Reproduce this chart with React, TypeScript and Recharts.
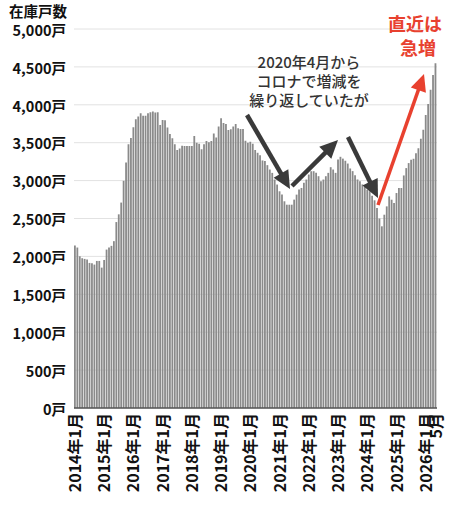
import { BarChart, Bar, XAxis, YAxis, CartesianGrid } from 'recharts';

const FONT = "'Noto Sans CJK JP', 'Noto Sans', sans-serif";

const years = [2014, 2015, 2016, 2017, 2018, 2019, 2020, 2021, 2022, 2023, 2024, 2025, 2026];

// 在庫戸数（月次）
const stock2014 = [2144, 2117, 2002, 1976, 1967, 1958, 1914, 1909, 1892, 1940, 1940, 1852];
const stock2015 = [1953, 2090, 2117, 2139, 2201, 2453, 2555, 2710, 2997, 3240, 3478, 3562];
const stock2016 = [3704, 3810, 3845, 3890, 3854, 3854, 3890, 3903, 3912, 3898, 3903, 3735];
const stock2017 = [3801, 3797, 3700, 3615, 3558, 3478, 3403, 3425, 3461, 3456, 3456, 3456];
const stock2018 = [3456, 3589, 3500, 3487, 3412, 3478, 3523, 3505, 3523, 3620, 3567, 3713];
const stock2019 = [3823, 3761, 3748, 3669, 3677, 3713, 3748, 3690, 3682, 3682, 3527, 3500];
const stock2020 = [3514, 3487, 3403, 3367, 3336, 3266, 3257, 3204, 3146, 3102, 3014, 2948];
const stock2021 = [2859, 2815, 2727, 2682, 2682, 2682, 2749, 2815, 2881, 2903, 2970, 3014];
const stock2022 = [3080, 3124, 3124, 3102, 3058, 2992, 3014, 3058, 3102, 3177, 3146, 3102];
const stock2023 = [3279, 3314, 3290, 3262, 3225, 3160, 3125, 3070, 3015, 2993, 2950, 2920];
const stock2024 = [2880, 2860, 2800, 2740, 2640, 2500, 2397, 2550, 2660, 2792, 2748, 2704];
const stock2025 = [2836, 2902, 2902, 3068, 3165, 3231, 3275, 3288, 3362, 3428, 3551, 3670];
const stock2026 = [3867, 4012, 4197, 4394, 4548];

const yTicks = [0, 500, 1000, 1500, 2000, 2500, 3000, 3500, 4000, 4500, 5000];

const byYear = [
  stock2014, stock2015, stock2016, stock2017, stock2018, stock2019, stock2020,
  stock2021, stock2022, stock2023, stock2024, stock2025, stock2026,
];

const data = byYear.flatMap((vals, i) =>
  vals.map((v, m) => ({ month: `${years[i]}-${m + 1}`, stock: v }))
);

const fmtY = (v: number) => `${v}`.replace(/\B(?=(\d{3})+(?!\d))/g, ',') + '戸';

function MonthTick(props: any) {
  const { x, y, payload, index } = props;
  const [yr, mo] = String(payload.value).split('-');
  let label = '';
  if (mo === '1') label = `${yr}年1月`;
  else if (index === data.length - 1) label = `${mo}月`;
  if (!label) return <g />;
  const ty = y - 3;
  return (
    <text
      x={x}
      y={ty}
      transform={`rotate(-90 ${x} ${ty})`}
      textAnchor="end"
      dy="0.36em"
      fill="#111"
      fontSize={16}
      fontWeight={600}
      fontFamily={FONT}
    >
      {label}
    </text>
  );
}

function YTick(props: any) {
  const { x, y, payload } = props;
  return (
    <text x={x} y={y + 1.5} dy="0.36em" textAnchor="end" fill="#111" fontSize={14.5} fontWeight={600} fontFamily={FONT}>
      {fmtY(payload.value)}
    </text>
  );
}

function Arrow({ x1, y1, x2, y2, color, w = 4.5, head = 18, hw = 8.5 }: any) {
  const dx = x2 - x1;
  const dy = y2 - y1;
  const len = Math.hypot(dx, dy);
  const ux = dx / len;
  const uy = dy / len;
  const bx = x2 - ux * head;
  const by = y2 - uy * head;
  const px = -uy;
  const py = ux;
  return (
    <g>
      <line x1={x1} y1={y1} x2={bx + ux * 2} y2={by + uy * 2} stroke={color} strokeWidth={w} />
      <polygon
        points={`${x2},${y2} ${bx + px * hw},${by + py * hw} ${bx - px * hw},${by - py * hw}`}
        fill={color}
      />
    </g>
  );
}

export default function App() {
  return (
    <div style={{ position: 'absolute', left: 0, top: 0, width: 450, height: 505, background: '#fff' }}>
      <BarChart
        width={450}
        height={505}
        data={data}
        margin={{ top: 29, right: 13, bottom: 67, left: 0 }}
      >
        <CartesianGrid vertical={false} stroke="#e2e2e2" />
        <XAxis
          dataKey="month"
          height={30}
          interval={0}
          tick={<MonthTick />}
          tickLine={false}
          axisLine={{ stroke: '#555', strokeWidth: 1.5 }}
        />
        <YAxis
          width={74}
          domain={[0, 5000]}
          ticks={yTicks}
          tickLine={false}
          axisLine={false}
          tick={<YTick />}
        />
        <Bar dataKey="stock" fill="#8a8a8a" barSize={1.8} isAnimationActive={false} />
      </BarChart>

      <svg
        width={450}
        height={505}
        style={{ position: 'absolute', left: 0, top: 0, pointerEvents: 'none' }}
        fontFamily={FONT}
      >
        <text x={9} y={17} fontSize={14.5} fontWeight={700} fill="#111">在庫戸数</text>

        <g fontSize={15} fontWeight={500} fill="#333" textAnchor="middle">
          <text x={309} y={68}>2020年4月から</text>
          <text x={309} y={87}>コロナで増減を</text>
          <text x={309} y={106}>繰り返していたが</text>
        </g>

        <g fontSize={18} fontWeight={700} fill="#e8412f" textAnchor="middle">
          <text x={415} y={31}>直近は</text>
          <text x={418} y={55}>急増</text>
        </g>

        <Arrow x1={247} y1={115} x2={290} y2={189} color="#3a3a3a" />
        <Arrow x1={292} y1={186} x2={338} y2={140} color="#3a3a3a" />
        <Arrow x1={348} y1={137} x2={378} y2={198} color="#3a3a3a" />
        <Arrow x1={378} y1={205} x2={424} y2={74} color="#e8412f" w={3.5} head={17} hw={8} />
      </svg>
    </div>
  );
}
